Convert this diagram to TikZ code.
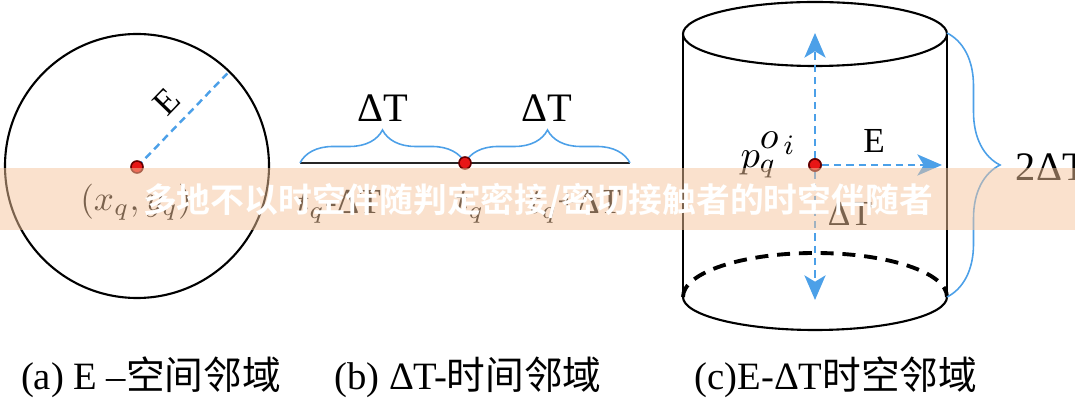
\documentclass[tikz,border=0pt]{standalone}
\usepackage{fontspec}
\setmainfont{Liberation Serif}
\newfontfamily\cjk[BoldFont={Noto Sans CJK SC Bold}]{Noto Sans CJK SC}
\usetikzlibrary{%
  arrows.meta,%
  decorations.pathreplacing,% wg. brace
  calc%
}
\definecolor{nbblue}{RGB}{76,160,232}
\definecolor{dotred}{RGB}{232,22,22}
\definecolor{bandfill}{RGB}{245,196,155}

\begin{document}
\begin{tikzpicture}[
  x=0.01cm, y=0.01cm,
  >={Stealth[length=7pt,width=6pt,inset=1.8pt]},
  line width=0.6pt,
  bdash/.style={nbblue, line width=0.7pt, dash pattern=on 2.1pt off 1.4pt},
  brc/.style={nbblue, line width=0.45pt, decorate, decoration={brace, amplitude=#1}},
  reddot/.style={circle, fill=dotred, draw=black!60!red, line width=0.45pt, inner sep=0pt, minimum size=0.12cm},
  bigtxt/.style={font=\fontsize{11.5}{13}\selectfont},
  smalltxt/.style={font=\fontsize{10}{12}\selectfont},
  captxt/.style={font=\fontsize{11}{13}\selectfont},
]
\useasboundingbox (0,0) rectangle (1075,400);

% (a) E-neighbourhood
\coordinate (a-c) at (137,233);
\coordinate (a-r) at ($(a-c)+(46:130)$);
\draw (137,234) circle[radius=132];
\draw[bdash] (a-c) -- node[smalltxt, text=black, sloped, above=0pt, pos=0.52] {E} (a-r);
\node[reddot] (a-dot) at (a-c) {};
\node[smalltxt] (a-xy) at (136,198) {$(x_q,y_q)$};

% (b) time line
\coordinate (b-l) at (300,237);
\coordinate (b-c) at (465,237);
\coordinate (b-r) at (630,237);
\draw[line width=0.85pt, black!85] (b-l) -- (b-r);
\draw[brc=0.33cm] (b-l) -- (b-c);
\draw[brc=0.33cm] (b-c) -- (b-r);
\node[reddot] (b-dot) at (b-c) {};
\node[bigtxt] (b-dt1) at (383,292) {ΔT};
\node[bigtxt] (b-dt2) at (547,292) {ΔT};
\node[smalltxt, anchor=west] (b-t1) at (284,193) {$t_q$-ΔT};
\node[smalltxt] (b-t2) at (470,193) {$t_q$};
\node[smalltxt, anchor=east] (b-t3) at (634,193) {$t_q$+ΔT};

% (c) cylinder
\coordinate (c-tl) at (683,366);
\coordinate (c-tr) at (947,366);
\coordinate (c-bl) at (683,103);
\coordinate (c-br) at (947,103);
\draw (815,366) ellipse[x radius=132, y radius=32];
\draw (c-tl) -- (c-bl);
\draw (c-tr) -- (c-br);
\draw (c-bl) arc[start angle=180, end angle=360, x radius=132, y radius=33];
\draw[line width=1.1pt, dash pattern=on 3.7pt off 2.5pt] (c-bl) arc[start angle=180, end angle=0, x radius=132, y radius=44];

\coordinate (c-up) at (815,367);
\coordinate (c-down) at (815,100);
\coordinate (c-east) at (942,235);
\node[reddot] (c-dot) at (815,235) {};
\draw[bdash, ->] (c-dot) -- (c-up);
\draw[bdash, ->] (c-dot) -- (c-down);
\draw[bdash, ->] (c-dot) -- (c-east);
\node[reddot] at (c-dot) {};
\node[smalltxt] (c-e) at (874,259) {E};
\node[font=\fontsize{11}{13}\selectfont, anchor=east] (c-p) at (810,245) {$p_q^{\textstyle o_{\,i}}$};
\node[smalltxt] (c-dt) at (850,186) {ΔT};
\draw[brc=0.53cm] ($(c-tr)+(0,1)$) -- (c-br);
\node[bigtxt, anchor=west] (c-2dt) at (1003,233) {2ΔT};

% captions
\node[captxt] (cap-a) at (151,23) {(a) E –{\cjk 空间邻域}};
\node[captxt] (cap-b) at (468,23) {(b) ΔT-{\cjk 时间邻域}};
\node[captxt] (cap-c) at (836,23) {(c)E-ΔT{\cjk 时空邻域}};

% overlay band
\fill[bandfill, opacity=0.5] (0,170) rectangle (1075,232);
\node[text=white, font=\cjk\bfseries\fontsize{9.6}{11}\selectfont] (band) at (538,199)
  {多地不以时空伴随判定密接/密切接触者的时空伴随者};

\end{tikzpicture}
\end{document}
